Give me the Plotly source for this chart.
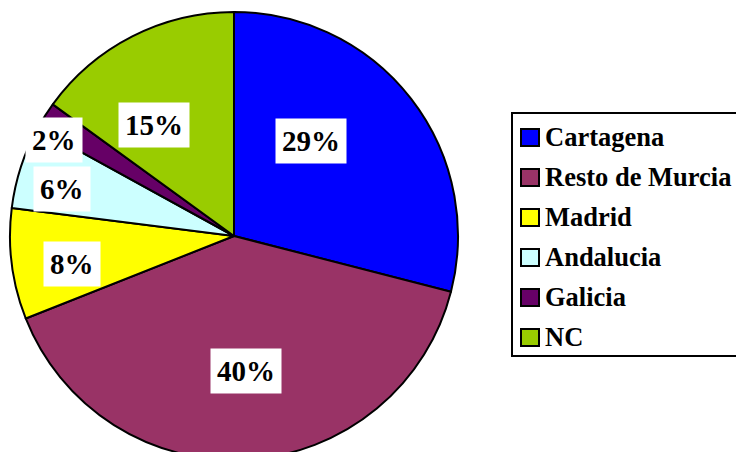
import plotly.graph_objects as go

# data
regions = ["Cartagena", "Resto de Murcia", "Madrid", "Andalucia", "Galicia", "NC"]
shares = [29, 40, 8, 6, 2, 15]
colors = ["#0000FF", "#993366", "#FFFF00", "#CCFFFF", "#660066", "#99CC00"]

# page geometry (pixels); the figure is a bit taller than the window so the
# bottom of the pie gets cut off like in the original
W, H = 736, 470
CX, CY, R = 234, 236, 224
SERIF = "Liberation Serif"

# where each percentage box sits (pixel centres, same order as regions)
label_xy = [(311, 141), (246, 371), (72, 264), (62, 189), (54, 140), (154, 125)]


def px(x):
    return x / W


def py(y):
    return 1 - y / H


fig = go.Figure(go.Pie(
    labels=regions,
    values=shares,
    sort=False,
    direction="clockwise",
    rotation=0,
    marker=dict(colors=colors, line=dict(color="black", width=2)),
    textinfo="none",
    hoverinfo="label+percent",
    showlegend=False,
    domain=dict(x=[px(CX - R), px(CX + R)], y=[py(CY + R), py(CY - R)]),
))

# percentage labels in white boxes
for (x, y), v in zip(label_xy, shares):
    fig.add_annotation(
        x=px(x), y=py(y), xref="paper", yref="paper",
        xanchor="center", yanchor="middle",
        text=f"{v}%", showarrow=False,
        font=dict(family=SERIF, size=29, color="black", weight="bold"),
        bgcolor="white", borderpad=6,
    )

# legend drawn by hand so the row spacing matches
fig.add_shape(type="rect", xref="paper", yref="paper",
              x0=px(512), x1=px(745), y0=py(356), y1=py(113),
              line=dict(color="black", width=2), fillcolor="white", layer="below")
row0, step = 137, 40
for i, (name, c) in enumerate(zip(regions, colors)):
    yc = row0 + i * step
    fig.add_shape(type="rect", xref="paper", yref="paper",
                  x0=px(521), x1=px(539), y0=py(yc + 9), y1=py(yc - 8),
                  line=dict(color="black", width=2), fillcolor=c)
    fig.add_annotation(
        x=px(543), y=py(yc), xref="paper", yref="paper",
        text=name, showarrow=False, xanchor="left", yanchor="middle",
        font=dict(family=SERIF, size=26.5, color="black", weight="bold"),
    )

fig.update_layout(
    width=W, height=H,
    margin=dict(l=0, r=0, t=0, b=0),
    paper_bgcolor="white",
    plot_bgcolor="white",
)

fig.write_html(
    "out.html",
    config={"displayModeBar": False},
    post_script="document.body.style.margin='0';document.body.style.overflow='hidden';",
)
